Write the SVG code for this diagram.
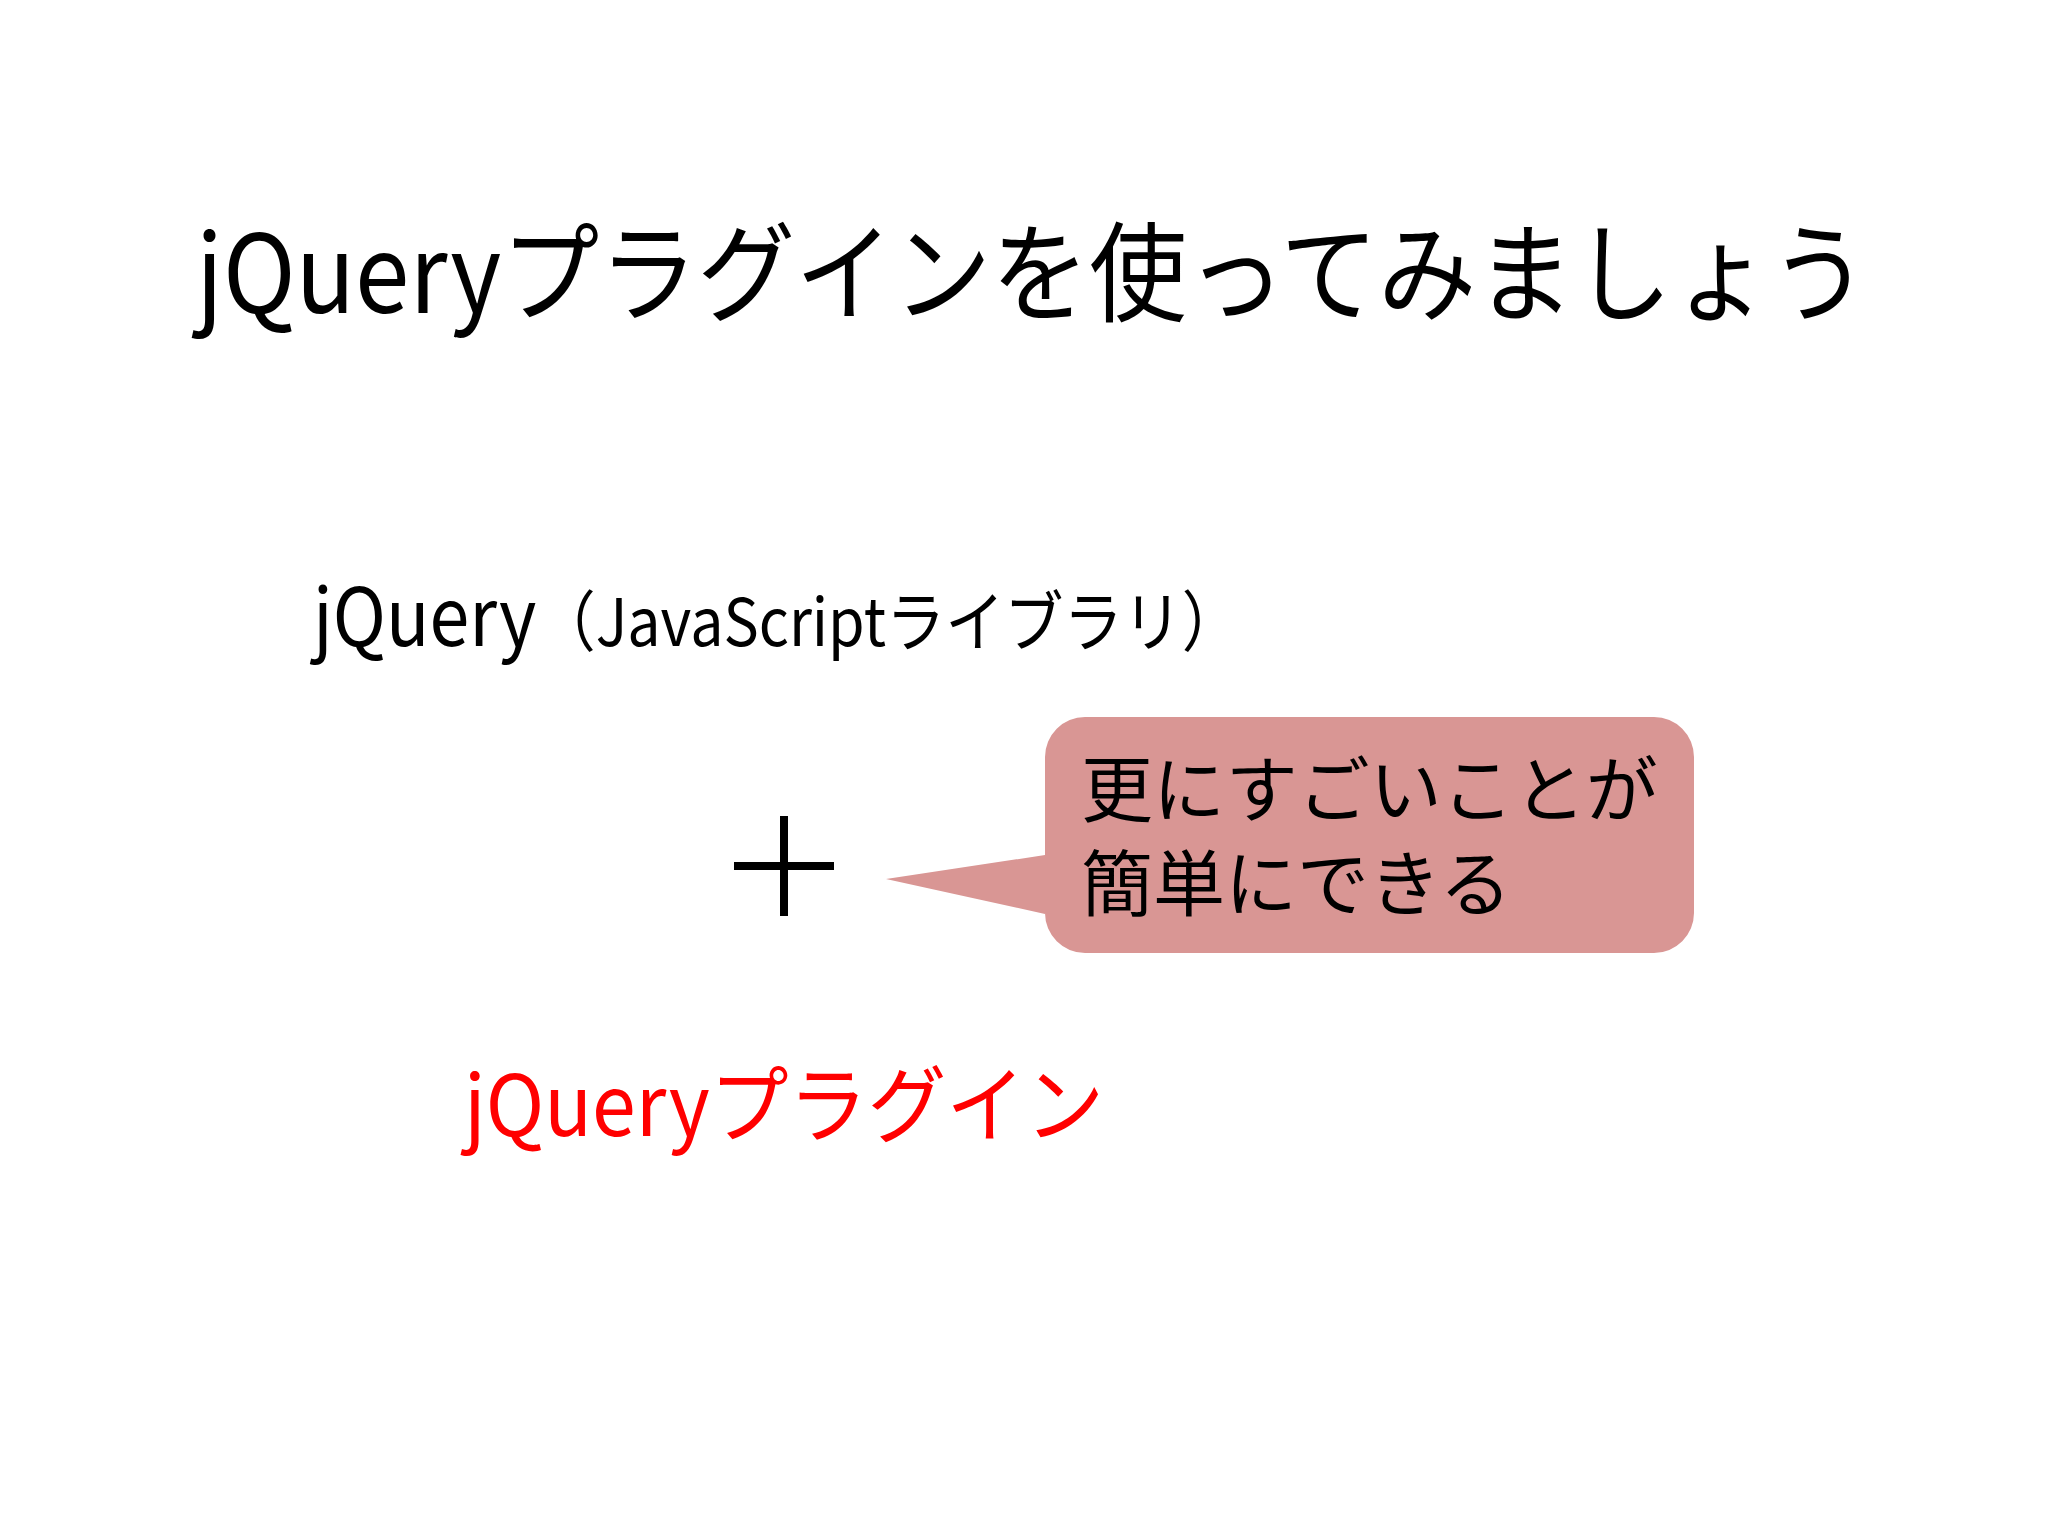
<svg xmlns="http://www.w3.org/2000/svg" width="2048" height="1536" viewBox="0 0 2048 1536">
<style>
text{font-family:"Noto Sans CJK JP","Noto Sans",sans-serif}
</style>
<rect width="2048" height="1536" fill="#ffffff"/>
<g id="title"><text x="196" y="313" font-size="108" textLength="1672" lengthAdjust="spacingAndGlyphs">jQueryプラグインを使ってみましょう</text></g>
<g id="jquery"><text x="313" y="646" font-size="80" textLength="928" lengthAdjust="spacingAndGlyphs">jQuery<tspan font-size="66">（JavaScriptライブラリ）</tspan></text></g>
<g id="plus"><path d="M734 866H834M784 816V916" stroke="#000" stroke-width="8"/></g>
<g id="callout">
<path d="M1085 717H1654A40 40 0 0 1 1694 757V913A40 40 0 0 1 1654 953H1085A40 40 0 0 1 1045 913V914L886 879L1045 855V757A40 40 0 0 1 1085 717Z" fill="#d99694"/>
<text x="1081" y="816" font-size="72">更にすごいことが</text>
<text x="1081" y="910" font-size="72">簡単にできる</text>
</g>
<g id="plugin"><text x="464" y="1136" font-size="84" fill="#ff0000" textLength="640" lengthAdjust="spacingAndGlyphs">jQueryプラグイン</text></g>
<g id="connectors"/>
</svg>
